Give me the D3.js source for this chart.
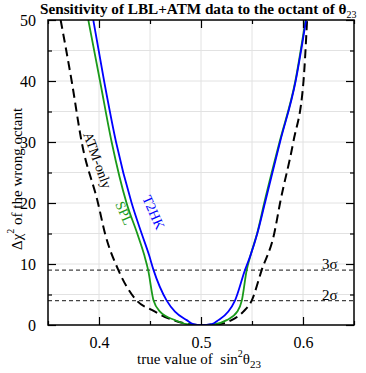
<!DOCTYPE html>
<html lang="en">
<head>
    <meta charset="UTF-8">
    <title>octant sensitivity</title>
    <script src="https://d3js.org/d3.v7.min.js"></script>
    <style>
        body { margin: 0; background: #fff; }
        svg text { font-family: "Liberation Serif", "Times New Roman", Times, "DejaVu Serif", serif; white-space: pre; }
    </style>
</head>
<body>
    <svg width="366" height="373"></svg>
    <script>
        // values: sin^2(theta23) and delta chi^2
        const atmX   = [0.3624, 0.3732, 0.383, 0.399, 0.4059, 0.419, 0.437, 0.4517, 0.468, 0.484, 0.5, 0.5186, 0.530, 0.5415, 0.5497, 0.5595, 0.5718, 0.5775, 0.5905, 0.6005, 0.604];
        const atmChi = [50, 40, 30, 20, 15, 9, 4, 2.46, 1.1, 0.27, 0, 0.15, 0.8, 2.2, 4, 9, 15, 20, 30, 40, 50];

        const splX   = [0.3895, 0.401, 0.4124, 0.427, 0.4375, 0.4443, 0.4482, 0.4535, 0.4598, 0.4745, 0.486, 0.5, 0.5137, 0.5252, 0.5356, 0.540, 0.5448, 0.5487, 0.555, 0.562, 0.577, 0.5925, 0.6025];
        const splChi = [50, 40, 30, 20, 15, 11.5, 9, 4, 2.2, 0.8, 0.15, 0, 0.15, 0.8, 2.2, 4, 9, 11.5, 15, 20, 30, 40, 50];

        const t2hkX   = [0.3944, 0.405, 0.4167, 0.432, 0.4418, 0.449, 0.4535, 0.4664, 0.4745, 0.486, 0.4925, 0.5, 0.5105, 0.517, 0.5268, 0.5333, 0.5431, 0.5487, 0.5552, 0.5627, 0.5775, 0.5928, 0.603];
        const t2hkChi = [50, 40, 30, 20, 15, 11.5, 9, 4, 2.2, 0.8, 0.15, 0, 0.15, 0.8, 2.2, 4, 9, 11.5, 15, 20, 30, 40, 50];

        const sigmaLevels = [9, 4];
        const sigmaLabels = ['3σ', '2σ'];
        const xTicks = [0.4, 0.5, 0.6];
        const yTicks = [0, 10, 20, 30, 40, 50];

        const svg = d3.select('svg');
        const [pl, pr, pt, pb] = [48, 354, 20, 325];
        const serif = '"Liberation Serif", "Times New Roman", Times, serif';

        const x = d3.scaleLinear().domain([0.35, 0.65]).range([pl, pr]);
        const y = d3.scaleLinear().domain([0, 50]).range([pb, pt]);

        svg.append('clipPath').attr('id', 'clip')
            .append('rect').attr('x', pl).attr('y', pt)
            .attr('width', pr - pl).attr('height', pb - pt);

        // grid
        const grid = svg.append('g').attr('stroke', '#e2e2e2').attr('stroke-width', 1);
        d3.range(0.4, 0.65, 0.05).forEach(v => {
            grid.append('line').attr('x1', x(v)).attr('x2', x(v)).attr('y1', pt).attr('y2', pb);
        });
        d3.range(5, 50, 5).forEach(v => {
            grid.append('line').attr('y1', y(v)).attr('y2', y(v)).attr('x1', pl).attr('x2', pr);
        });

        // sigma lines
        svg.selectAll('.sig').data(sigmaLevels).enter().append('line')
            .attr('x1', pl).attr('x2', pr)
            .attr('y1', d => y(d)).attr('y2', d => y(d))
            .attr('stroke', '#444').attr('stroke-width', 1.1)
            .attr('stroke-dasharray', '4,3');

        const line = d3.line()
            .x(d => x(d[0]))
            .y(d => y(d[1]))
            .curve(d3.curveMonotoneX);

        const curves = svg.append('g').attr('clip-path', 'url(#clip)').attr('fill', 'none');
        curves.append('path').attr('d', line(d3.zip(atmX, atmChi)))
            .attr('stroke', '#000').attr('stroke-width', 2).attr('stroke-dasharray', '9,5');
        curves.append('path').attr('d', line(d3.zip(splX, splChi)))
            .attr('stroke', '#1a9a1a').attr('stroke-width', 1.8);
        curves.append('path').attr('d', line(d3.zip(t2hkX, t2hkChi)))
            .attr('stroke', '#0000ff').attr('stroke-width', 1.8);

        // axes with inward ticks on all sides
        const xAxisB = d3.axisBottom(x).tickValues(xTicks).tickSizeInner(-8).tickSizeOuter(0).tickPadding(12).tickFormat(d3.format('.1f'));
        const xAxisT = d3.axisTop(x).tickValues(xTicks).tickSizeInner(-8).tickSizeOuter(0).tickFormat('');
        const yAxisL = d3.axisLeft(y).tickValues(yTicks).tickSizeInner(-8).tickSizeOuter(0).tickPadding(12);
        const yAxisR = d3.axisRight(y).tickValues(yTicks).tickSizeInner(-8).tickSizeOuter(0).tickFormat('');
        const minorX = [0.35, 0.45, 0.55, 0.65];
        const minorY = [5, 15, 25, 35, 45];

        function styleAxis(g) {
            g.attr('font-family', null);
            g.select('.domain').remove();
            g.selectAll('line').attr('stroke', '#000').attr('stroke-width', 1.2);
            g.selectAll('text').attr('font-size', 16).attr('fill', '#000')
                .style('font-family', serif);
        }
        svg.append('g').attr('transform', `translate(0,${pb})`).call(xAxisB).call(styleAxis);
        svg.append('g').attr('transform', `translate(0,${pt})`).call(xAxisT).call(styleAxis);
        svg.append('g').attr('transform', `translate(${pl},0)`).call(yAxisL).call(styleAxis);
        svg.append('g').attr('transform', `translate(${pr},0)`).call(yAxisR).call(styleAxis);
        svg.append('g').attr('transform', `translate(0,${pb})`)
            .call(d3.axisBottom(x).tickValues(minorX).tickSizeInner(-4).tickSizeOuter(0).tickFormat('')).call(styleAxis);
        svg.append('g').attr('transform', `translate(0,${pt})`)
            .call(d3.axisTop(x).tickValues(minorX).tickSizeInner(-4).tickSizeOuter(0).tickFormat('')).call(styleAxis);
        svg.append('g').attr('transform', `translate(${pl},0)`)
            .call(d3.axisLeft(y).tickValues(minorY).tickSizeInner(-4).tickSizeOuter(0).tickFormat('')).call(styleAxis);
        svg.append('g').attr('transform', `translate(${pr},0)`)
            .call(d3.axisRight(y).tickValues(minorY).tickSizeInner(-4).tickSizeOuter(0).tickFormat('')).call(styleAxis);

        // frame
        svg.append('rect').attr('x', pl).attr('y', pt)
            .attr('width', pr - pl).attr('height', pb - pt)
            .attr('fill', 'none').attr('stroke', '#000').attr('stroke-width', 1.5);

        // sigma labels
        svg.selectAll('.siglab').data(sigmaLevels).enter().append('text')
            .attr('x', 322).attr('y', d => y(d) - 1)
            .attr('font-size', 15)
            .text((d, i) => sigmaLabels[i]);

        // curve labels
        svg.append('text').attr('transform', 'translate(83,134) rotate(70)')
            .attr('font-size', 14).attr('fill', '#000').text('ATM-only');
        svg.append('text').attr('transform', 'translate(115,204) rotate(66)')
            .attr('font-size', 14).attr('fill', '#1a9a1a').text('SPL');
        svg.append('text').attr('transform', 'translate(142,198) rotate(66)')
            .attr('font-size', 14).attr('fill', '#0000ff').text('T2HK');

        // title
        const title = svg.append('text').attr('x', 40).attr('y', 14)
            .attr('font-size', 15.2).attr('font-weight', 'bold');
        title.append('tspan').text('Sensitivity of LBL+ATM data to the octant of θ');
        title.append('tspan').attr('dy', 4).attr('font-size', 10).attr('font-weight', 'normal').text('23');

        // x label
        const xl = svg.append('text').attr('x', 137).attr('y', 364).attr('font-size', 15);
        xl.append('tspan').text('true value of  sin');
        xl.append('tspan').attr('dy', -7).attr('font-size', 10).text('2');
        xl.append('tspan').attr('dy', 7).text('θ');
        xl.append('tspan').attr('dy', 4).attr('font-size', 11).text('23');

        // y label
        const yl = svg.append('text').attr('transform', 'translate(22,250) rotate(-90)').attr('font-size', 15);
        yl.append('tspan').text('Δχ');
        yl.append('tspan').attr('dy', -8).attr('font-size', 10).text('2');
        yl.append('tspan').attr('dy', 8).text(' of the wrong octant');
    </script>
</body>
</html>
